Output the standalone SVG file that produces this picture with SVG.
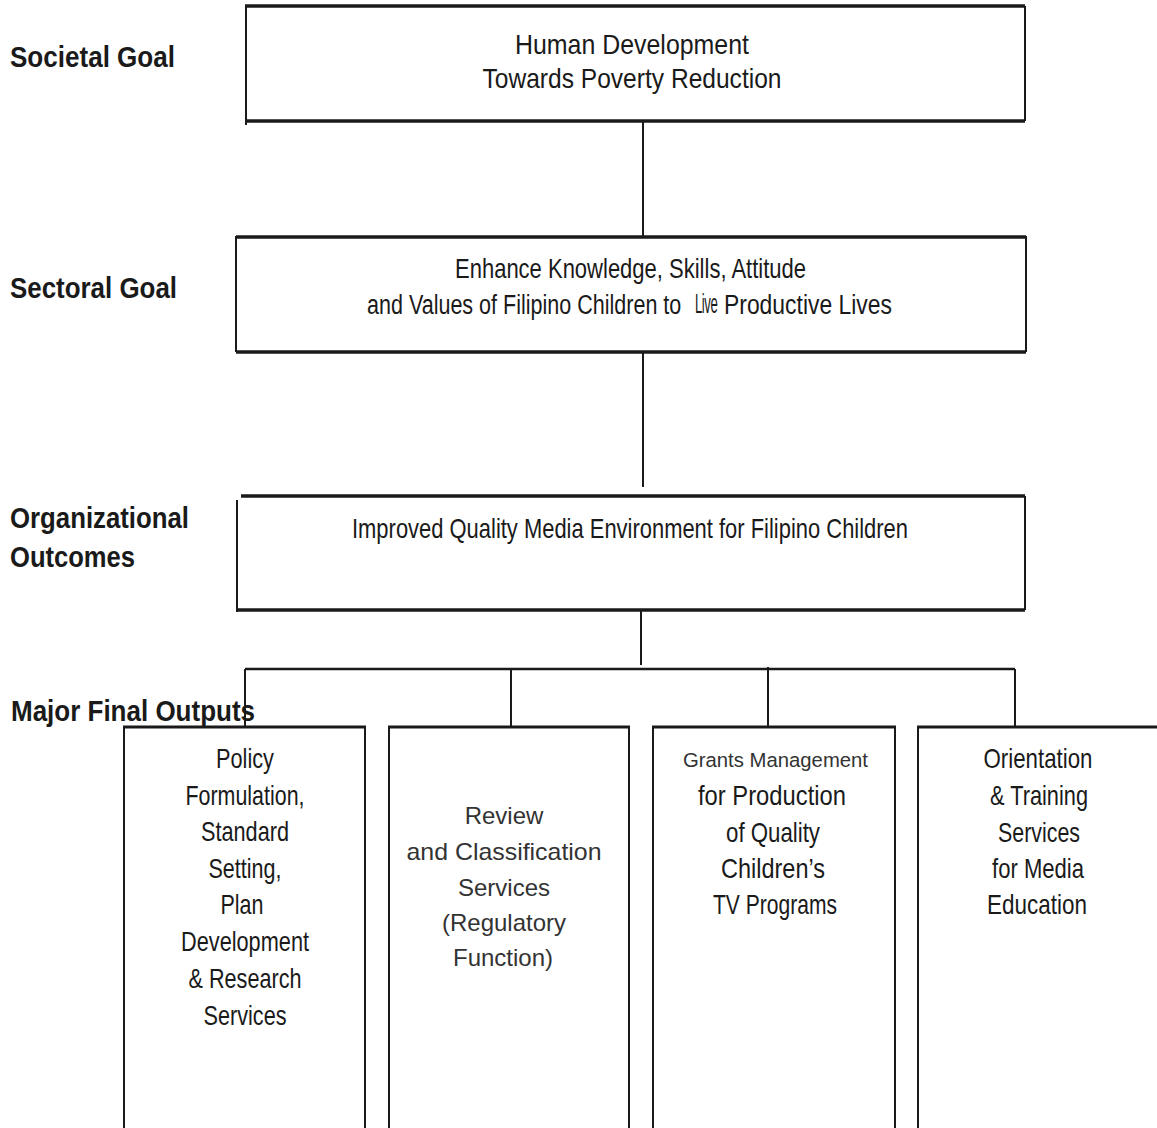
<svg xmlns="http://www.w3.org/2000/svg" width="1157" height="1128" viewBox="0 0 1157 1128">
<style>
.bg{fill:#ffffff}
.edge{stroke:#1a1a1a;stroke-width:3.5;fill:none}
.conn{stroke:#1a1a1a;stroke-width:2;fill:none}
.lbl{font-family:"Liberation Sans Narrow","Liberation Sans",Arial,sans-serif;font-weight:bold;font-size:29px;fill:#1a1a1a}
.nt{font-family:"Liberation Sans Narrow","Liberation Sans",Arial,sans-serif;font-size:28px;fill:#1a1a1a;text-anchor:middle}
.ns{font-family:"Liberation Sans",Arial,sans-serif;font-size:28px;fill:#1a1a1a}
.rt{font-family:"Liberation Sans",Arial,sans-serif;font-size:24px;fill:#333333;text-anchor:middle}
.sm{font-family:"Liberation Sans",Arial,sans-serif;font-size:20.5px;fill:#333333;text-anchor:middle}
</style>
<rect class="bg" x="0" y="0" width="1157" height="1128"/>

<g id="labels">
<text class="lbl" x="10" y="67" textLength="165" lengthAdjust="spacingAndGlyphs">Societal Goal</text>
<text class="lbl" x="10" y="298" textLength="167" lengthAdjust="spacingAndGlyphs">Sectoral Goal</text>
<text class="lbl" x="10" y="528" textLength="179" lengthAdjust="spacingAndGlyphs">Organizational</text>
<text class="lbl" x="10" y="567" textLength="125" lengthAdjust="spacingAndGlyphs">Outcomes</text>
<text class="lbl" x="11" y="721" textLength="244" lengthAdjust="spacingAndGlyphs">Major Final Outputs</text>
</g>

<g id="connectors">
<line class="conn" x1="643" y1="121" x2="643" y2="237"/>
<line class="conn" x1="643" y1="352" x2="643" y2="487"/>
<line class="conn" x1="641" y1="610" x2="641" y2="665"/>
<line class="edge" x1="245" y1="669" x2="1015" y2="669" style="stroke-width:2.5"/>
<line class="conn" x1="245" y1="669" x2="245" y2="727"/>
<line class="conn" x1="511" y1="669" x2="511" y2="727"/>
<line class="conn" x1="768" y1="667" x2="768" y2="727"/>
<line class="conn" x1="1015" y1="669" x2="1015" y2="727"/>
</g>

<g id="societal-goal">
<line class="conn" x1="246" y1="5" x2="246" y2="125"/>
<line class="conn" x1="1025" y1="6" x2="1025" y2="121"/>
<line class="edge" x1="245" y1="6" x2="1025" y2="6"/>
<line class="edge" x1="245" y1="121" x2="1025" y2="121"/>
<text class="nt" x="632" y="54" textLength="234" lengthAdjust="spacingAndGlyphs">Human Development</text>
<text class="nt" x="632" y="88" textLength="299" lengthAdjust="spacingAndGlyphs">Towards Poverty Reduction</text>
</g>

<g id="sectoral-goal">
<line class="conn" x1="236" y1="236" x2="236" y2="352"/>
<line class="conn" x1="1026" y1="236" x2="1026" y2="352"/>
<line class="edge" x1="236" y1="237" x2="1026" y2="237"/>
<line class="edge" x1="236" y1="352" x2="1026" y2="352"/>
<text class="nt" x="630.5" y="278" textLength="351" lengthAdjust="spacingAndGlyphs">Enhance Knowledge, Skills, Attitude</text>
<text class="ns" transform="translate(367 314) scale(0.769 1)">and Values of Filipino Children to</text>
<text class="ns" transform="translate(695 313) scale(0.47 1)" letter-spacing="-1">Live</text>
<text class="ns" transform="translate(724 314) scale(0.818 1)">Productive Lives</text>
</g>

<g id="organizational-outcomes">
<line class="conn" x1="237" y1="500" x2="237" y2="612"/>
<line class="conn" x1="1025" y1="496" x2="1025" y2="610"/>
<line class="edge" x1="241" y1="496" x2="1025" y2="496"/>
<line class="edge" x1="237" y1="610" x2="1025" y2="610"/>
<text class="nt" x="630" y="538" textLength="556" lengthAdjust="spacingAndGlyphs">Improved Quality Media Environment for Filipino Children</text>
</g>

<g id="mfo-policy">
<line class="conn" x1="124" y1="727" x2="124" y2="1128"/>
<line class="conn" x1="365" y1="727" x2="365" y2="1128"/>
<line class="edge" x1="123" y1="727" x2="366" y2="727" style="stroke-width:3"/>
<text class="nt" x="245" y="768" textLength="58" lengthAdjust="spacingAndGlyphs">Policy</text>
<text class="nt" x="245" y="805" textLength="119" lengthAdjust="spacingAndGlyphs">Formulation,</text>
<text class="nt" x="245" y="841" textLength="88" lengthAdjust="spacingAndGlyphs">Standard</text>
<text class="nt" x="245" y="878" textLength="73" lengthAdjust="spacingAndGlyphs">Setting,</text>
<text class="nt" x="242" y="914" textLength="43" lengthAdjust="spacingAndGlyphs">Plan</text>
<text class="nt" x="245" y="951" textLength="128" lengthAdjust="spacingAndGlyphs">Development</text>
<text class="nt" x="245" y="988" textLength="113" lengthAdjust="spacingAndGlyphs">&amp; Research</text>
<text class="nt" x="245" y="1025" textLength="83" lengthAdjust="spacingAndGlyphs">Services</text>
</g>

<g id="mfo-review">
<line class="conn" x1="389" y1="727" x2="389" y2="1128"/>
<line class="conn" x1="629" y1="727" x2="629" y2="1128"/>
<line class="edge" x1="388" y1="727" x2="630" y2="727" style="stroke-width:3"/>
<text class="rt" x="504" y="824">Review</text>
<text class="rt" x="504" y="860" textLength="195" lengthAdjust="spacingAndGlyphs">and  Classification</text>
<text class="rt" x="504" y="896">Services</text>
<text class="rt" x="504" y="931">(Regulatory</text>
<text class="rt" x="503" y="966">Function)</text>
</g>

<g id="mfo-grants">
<line class="conn" x1="653" y1="727" x2="653" y2="1128"/>
<line class="conn" x1="895" y1="727" x2="895" y2="1128"/>
<line class="edge" x1="652" y1="727" x2="896" y2="727" style="stroke-width:3"/>
<text class="sm" x="775.5" y="767" textLength="185" lengthAdjust="spacingAndGlyphs">Grants Management</text>
<text class="nt" x="772" y="805" textLength="148" lengthAdjust="spacingAndGlyphs">for Production</text>
<text class="nt" x="773" y="842" textLength="94" lengthAdjust="spacingAndGlyphs">of Quality</text>
<text class="nt" x="773" y="878" textLength="104" lengthAdjust="spacingAndGlyphs">Children’s</text>
<text class="nt" x="775" y="914" textLength="124" lengthAdjust="spacingAndGlyphs">TV Programs</text>
</g>

<g id="mfo-orientation">
<line class="conn" x1="918" y1="727" x2="918" y2="1128"/>
<line class="edge" x1="917" y1="727" x2="1157" y2="727" style="stroke-width:3"/>
<text class="nt" x="1038" y="768" textLength="109" lengthAdjust="spacingAndGlyphs">Orientation</text>
<text class="nt" x="1039" y="805" textLength="98" lengthAdjust="spacingAndGlyphs">&amp; Training</text>
<text class="nt" x="1039" y="842" textLength="82" lengthAdjust="spacingAndGlyphs">Services</text>
<text class="nt" x="1038" y="878" textLength="92" lengthAdjust="spacingAndGlyphs">for Media</text>
<text class="nt" x="1037" y="914" textLength="100" lengthAdjust="spacingAndGlyphs">Education</text>
</g>
</svg>
